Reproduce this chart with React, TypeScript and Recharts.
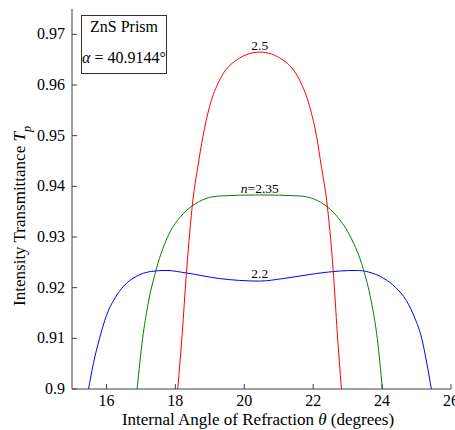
import { LineChart, Line, XAxis, YAxis, ReferenceDot } from "recharts";

const xTicks = [16, 18, 20, 22, 24, 26];
const yTicks = [0.9, 0.91, 0.92, 0.93, 0.94, 0.95, 0.96, 0.97];

// n = 2.5
const redAngle = [18.07, 18.2, 18.32, 18.51, 18.65, 18.8, 18.99, 19.28, 19.77, 20.45, 21.13, 21.61, 21.9, 22.1, 22.24, 22.39, 22.58, 22.7, 22.82];
const redT = [0.9, 0.911, 0.9228, 0.9373, 0.9438, 0.9498, 0.9557, 0.9609, 0.9649, 0.9665, 0.9649, 0.9609, 0.9557, 0.9498, 0.9438, 0.9373, 0.9235, 0.911, 0.9];

// n = 2.35
const greenAngle = [16.89, 17.05, 17.2, 17.44, 17.83, 18.15, 18.5, 19.28, 20.45, 21.6, 22.3, 22.7, 23.1, 23.45, 23.68, 23.86, 24.01];
const greenT = [0.9, 0.91, 0.9165, 0.9235, 0.9308, 0.934, 0.9362, 0.9381, 0.9383, 0.9381, 0.9365, 0.934, 0.9298, 0.9238, 0.9175, 0.91, 0.9];

// n = 2.2
const blueAngle = [15.48, 15.62, 15.8, 16.0, 16.25, 16.5, 16.86, 17.3, 17.73, 18.32, 19.28, 20.45, 21.13, 22.1, 22.8, 23.26, 23.6, 24.03, 24.4, 24.7, 24.95, 25.15, 25.3, 25.43];
const blueT = [0.9, 0.905, 0.91, 0.9145, 0.918, 0.9203, 0.9222, 0.9232, 0.9234, 0.9229, 0.9218, 0.9213, 0.9218, 0.9228, 0.9233, 0.9234, 0.9231, 0.9219, 0.92, 0.9175, 0.914, 0.91, 0.905, 0.9];

const toRows = (xs: number[], ys: number[]) => xs.map((x, i) => ({ angle: x, t: ys[i] }));

const FONT = '"Liberation Serif", "Times New Roman", Times, serif';
const AXIS = "#404040";

function BottomTick({ x, y, payload }: any) {
  return (
    <g>
      <line x1={x} y1={y} x2={x} y2={y - 5} stroke={AXIS} />
      <text x={x} y={y + 17} textAnchor="middle" fontSize={16} fontFamily={FONT} fill="#000">
        {payload.value}
      </text>
    </g>
  );
}

function LeftTick({ x, y, payload }: any) {
  return (
    <g>
      <line x1={x} y1={y} x2={x + 5} y2={y} stroke={AXIS} />
      <text x={x - 7} y={y + 5} textAnchor="end" fontSize={16} fontFamily={FONT} fill="#000">
        {String(+payload.value.toFixed(2))}
      </text>
    </g>
  );
}

function TopTick({ x, y }: any) {
  return <line x1={x} y1={y} x2={x} y2={y + 5} stroke={AXIS} />;
}

function RightTick({ x, y }: any) {
  return <line x1={x} y1={y} x2={x - 5} y2={y} stroke={AXIS} />;
}

const curveLabel = (text: React.ReactNode, gap: number) => (props: any) => {
  const vb = props.viewBox;
  return (
    <text x={vb.x} y={vb.y - gap} textAnchor="middle" fontSize={13.5} fontFamily={FONT} fill="#000">
      {text}
    </text>
  );
};

export default function App() {
  return (
    <div style={{ position: "absolute", left: 0, top: 0, width: 455, height: 430, background: "#fff", fontFamily: FONT }}>
      <LineChart width={455} height={430} margin={{ top: 9, right: 4, bottom: 0, left: 0 }}>
        <XAxis
          type="number"
          dataKey="angle"
          domain={[15, 26]}
          ticks={xTicks}
          height={41}
          tickSize={0}
          tickMargin={0}
          tick={<BottomTick />}
          stroke={AXIS}
          interval={0}
          label={{
            content: () => (
              <text x={258} y={425} textAnchor="middle" fontSize={17} fontFamily={FONT} fill="#000">
                Internal Angle of Refraction <tspan fontStyle="italic">θ</tspan> (degrees)
              </text>
            ),
          }}
        />
        <XAxis
          xAxisId="top"
          orientation="top"
          type="number"
          domain={[15, 26]}
          ticks={xTicks}
          height={0}
          tickSize={0}
          tickMargin={0}
          tick={<TopTick />}
          stroke={AXIS}
          interval={0}
        />
        <YAxis
          type="number"
          domain={[0.9, 0.975]}
          ticks={yTicks}
          width={72}
          tickSize={0}
          tickMargin={0}
          tick={<LeftTick />}
          stroke={AXIS}
          interval={0}
          label={{
            content: () => (
              <text transform="translate(25,216) rotate(-90)" textAnchor="middle" fontSize={17} fontFamily={FONT} fill="#000">
                Intensity Transmittance <tspan fontStyle="italic">T</tspan>
                <tspan fontStyle="italic" fontSize={12} dy={6}>p</tspan>
              </text>
            ),
          }}
        />
        <YAxis
          yAxisId="right"
          orientation="right"
          type="number"
          domain={[0.9, 0.975]}
          ticks={yTicks}
          width={0}
          tickSize={0}
          tickMargin={0}
          tick={<RightTick />}
          stroke={AXIS}
          interval={0}
        />
        <Line data={toRows(blueAngle, blueT)} dataKey="t" type="monotone" stroke="#0000ff" strokeWidth={1} dot={false} isAnimationActive={false} />
        <Line data={toRows(greenAngle, greenT)} dataKey="t" type="monotone" stroke="#008000" strokeWidth={1} dot={false} isAnimationActive={false} />
        <Line data={toRows(redAngle, redT)} dataKey="t" type="monotone" stroke="#ff0000" strokeWidth={1} dot={false} isAnimationActive={false} />
        <ReferenceDot x={20.45} y={0.9665} r={0} stroke="none" label={{ content: curveLabel("2.5", 2) }} />
        <ReferenceDot
          x={20.45}
          y={0.9383}
          r={0}
          stroke="none"
          label={{ content: curveLabel(<><tspan fontStyle="italic">n</tspan>=2.35</>, 2) }}
        />
        <ReferenceDot x={20.45} y={0.9213} r={0} stroke="none" label={{ content: curveLabel("2.2", 3) }} />
      </LineChart>
      <div
        style={{
          position: "absolute",
          left: 81,
          top: 15,
          width: 86,
          height: 59,
          border: "1px solid #333",
          boxSizing: "border-box",
          background: "#fff",
          fontFamily: FONT,
          fontSize: 16,
          color: "#000",
        }}
      >
        <div style={{ position: "absolute", left: 0, right: 0, top: 1.5, textAlign: "center", lineHeight: "18px" }}>ZnS Prism</div>
        <div style={{ position: "absolute", left: 0, right: 0, top: 32.5, textAlign: "center", lineHeight: "18px", whiteSpace: "nowrap" }}>
          <i>α</i> = 40.9144°
        </div>
      </div>
    </div>
  );
}
